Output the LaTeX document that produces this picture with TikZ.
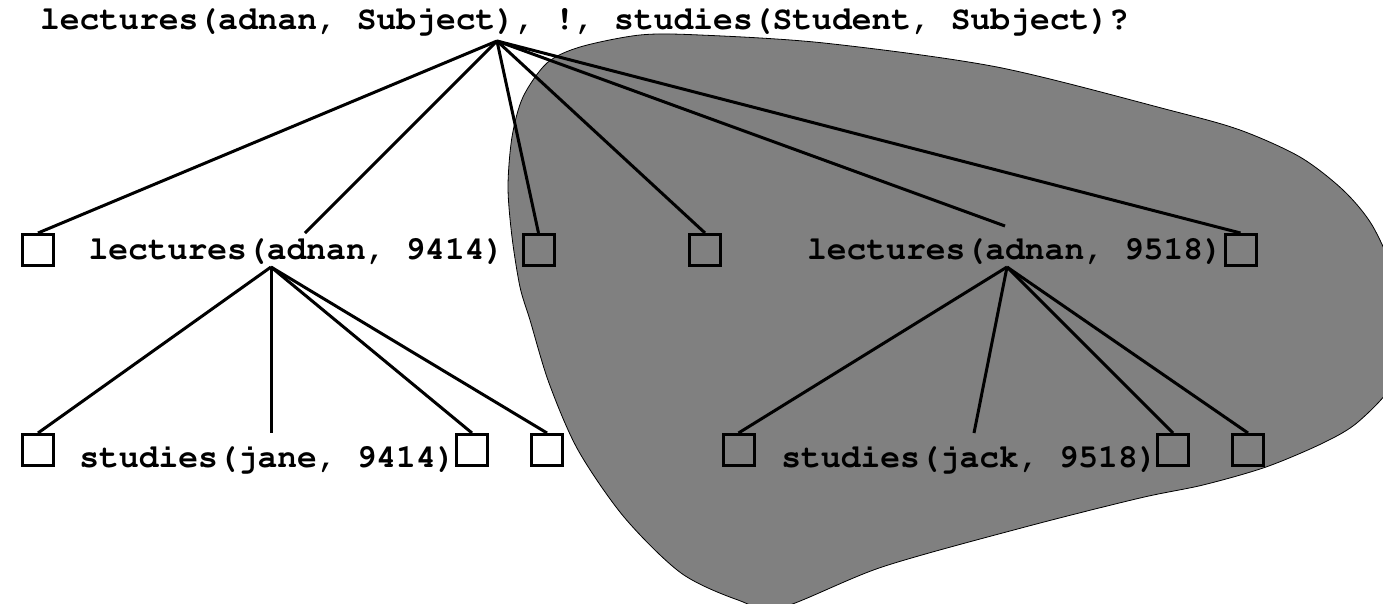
\documentclass[tikz,border=0pt]{standalone}
\usepackage[T1]{fontenc}
\usepackage{tikz}

\tikzset{
  leaf/.style={draw, line width=3pt, minimum size=31pt, inner sep=0pt},
  goal/.style={font=\fontfamily{pcr}\bfseries\fontsize{33}{40}\selectfont, inner sep=0pt, anchor=base},
  branch/.style={line width=3pt}
}

\begin{document}
\begin{tikzpicture}[x=1pt, y=-1pt]
\clip (0,0) rectangle (1383,603);

% Shaded region
\filldraw[fill=gray, draw=black, line width=0.8pt] plot[smooth cycle] coordinates {
    (640,35) (700,35) (824,43) (997,67) (1169,110) (1240,130) (1300,157)
    (1343,190) (1372,225) (1394,275) (1402,330) (1394,382) (1358,422)
    (1323,443) (1266,467) (1203,485) (1140,498) (1025,527) (882,567)
    (780,608) (738,600) (681,573) (624,517) (578,450) (549,383) (530,320)
    (520,287) (512,237) (508,187) (512,137) (523,97) (547,63) (580,47)};

% Goals
\node[goal] (query) at (584.5,29) {lectures(adnan, Subject), !, studies(Student, Subject)?};
\node[goal] (lec1) at (296.5,259) {lectures(adnan, 9414)};
\node[goal] (lec2) at (1015,259) {lectures(adnan, 9518)};
\node[goal] (stud1) at (267.5,467) {studies(jane, 9414)};
\node[goal] (stud2) at (969.5,467) {studies(jack, 9518)};

% Branch points on the goals
\coordinate (root) at (497,41);
\coordinate (lec1in) at (305,233);
\coordinate (lec1out) at (271,267);
\coordinate (lec2in) at (1005,226);
\coordinate (lec2out) at (1007,267);
\coordinate (stud1in) at (271,433);
\coordinate (stud2in) at (974,433);

% Failed branches
\foreach \n/\x/\y in {b1/38/250, b2/538.5/250, b3/705/250, b4/1240.5/250,
                      b5/38/450, b6/472/450, b7/547/450,
                      b8/738.5/450, b9/1173/450, b10/1248/450}
    \node[leaf] (\n) at (\x,\y) {};

% Tree
\foreach \t in {b1.north, lec1in, b2.north, b3.north, lec2in, b4.north}
    \draw[branch] (root) -- (\t);
\foreach \t in {b5.north, stud1in, b6.north, b7.north}
    \draw[branch] (lec1out) -- (\t);
\foreach \t in {b8.north, stud2in, b9.north, b10.north}
    \draw[branch] (lec2out) -- (\t);

\end{tikzpicture}
\end{document}
